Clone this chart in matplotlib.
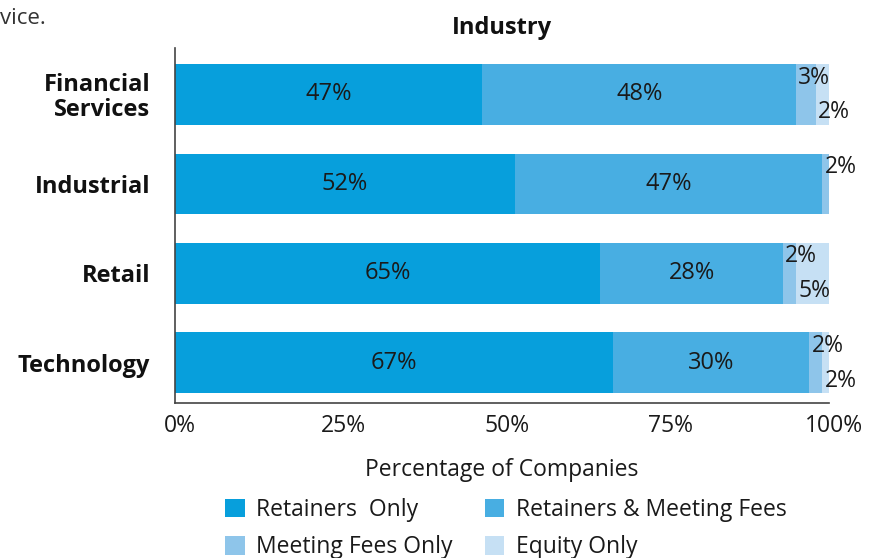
import matplotlib.pyplot as plt
import matplotlib.transforms as mtransforms
from matplotlib.patches import Patch

plt.rcParams['font.family'] = ['Open Sans', 'DejaVu Sans']

# survey data: share of companies by director pay structure
industries = ['Financial\nServices', 'Industrial', 'Retail', 'Technology']
retainers_only = [47, 52, 65, 67]
retainers_meeting = [48, 47, 28, 30]
meeting_only = [3, 2, 2, 2]
equity_only = [2, 0, 5, 2]

series_names = ['Retainers  Only', 'Retainers & Meeting Fees',
                'Meeting Fees Only', 'Equity Only']
colors = ['#079fdc', '#48aee2', '#8ec5ea', '#c6e0f4']
x_ticks = [0, 25, 50, 75, 100]

series = [retainers_only, retainers_meeting, meeting_only, equity_only]

fig = plt.figure(figsize=(8.69, 5.58), dpi=100)
ax = fig.add_axes([175 / 869, 1 - 403 / 558, 654 / 869, 355 / 558])

ypos = list(range(len(industries)))
left = [0] * len(industries)
for k, (vals, col) in enumerate(zip(series, colors)):
    ax.barh(ypos, vals, left=left, height=0.68, color=col, linewidth=0)
    for i, v in enumerate(vals):
        if v == 0:
            continue
        if k < 2:
            ax.text(left[i] + v / 2, i, f'{v}%', ha='center', va='center',
                    fontsize=17, color='#1a1a1a')
        else:
            # thin slices: label hangs to the right, stacked above/below
            dy = -0.19 if k == 2 else 0.2
            ax.annotate(f'{v}%', (left[i], i + dy), xytext=(1.5, 0),
                        textcoords='offset points', ha='left', va='center',
                        fontsize=16.5, color='#1a1a1a', annotation_clip=False)
    left = [a + b for a, b in zip(left, vals)]

ax.set_xlim(0, 100)
ax.set_ylim(3.45, -0.52)
ax.set_yticks(ypos)
ax.set_yticklabels(industries, fontsize=17, fontweight='bold',
                   linespacing=1.05, color='#111111')
ax.set_xticks(x_ticks)
ax.set_xticklabels([f'{t}%' for t in x_ticks], fontsize=16.5, color='#1a1a1a')
ax.tick_params(axis='both', length=0)
ax.tick_params(axis='y', pad=18)
ax.tick_params(axis='x', pad=8)
shift = mtransforms.ScaledTranslation(5 / 100, 0, fig.dpi_scale_trans)
for lab in ax.get_xticklabels():
    lab.set_transform(lab.get_transform() + shift)

for s in ['top', 'right']:
    ax.spines[s].set_visible(False)
for s in ['left', 'bottom']:
    ax.spines[s].set_color('#444444')
    ax.spines[s].set_linewidth(1.2)

ax.set_xlabel('Percentage of Companies', fontsize=16.5, color='#1a1a1a',
              labelpad=14)
ax.set_title('Industry', fontsize=17, fontweight='bold', color='#111111',
             pad=10)

# two rows, read across: reorder for column-major legend filling
order = [0, 2, 1, 3]
handles = [Patch(facecolor=c, edgecolor='none') for c in colors]
fig.legend([handles[j] for j in order], [series_names[j] for j in order],
           ncol=2, loc='upper left',
           bbox_to_anchor=(216 / 869, 1 - 489 / 558), frameon=False,
           fontsize=16.5, handlelength=0.85, handleheight=0.85,
           handletextpad=0.5, columnspacing=1.4, labelspacing=0.58,
           borderaxespad=0, labelcolor='#1a1a1a')

fig.text(0, 1 - 18 / 558, 'vice.', ha='left', va='center',
         fontsize=16, color='#333333')

fig.savefig('out.png', dpi=100)
